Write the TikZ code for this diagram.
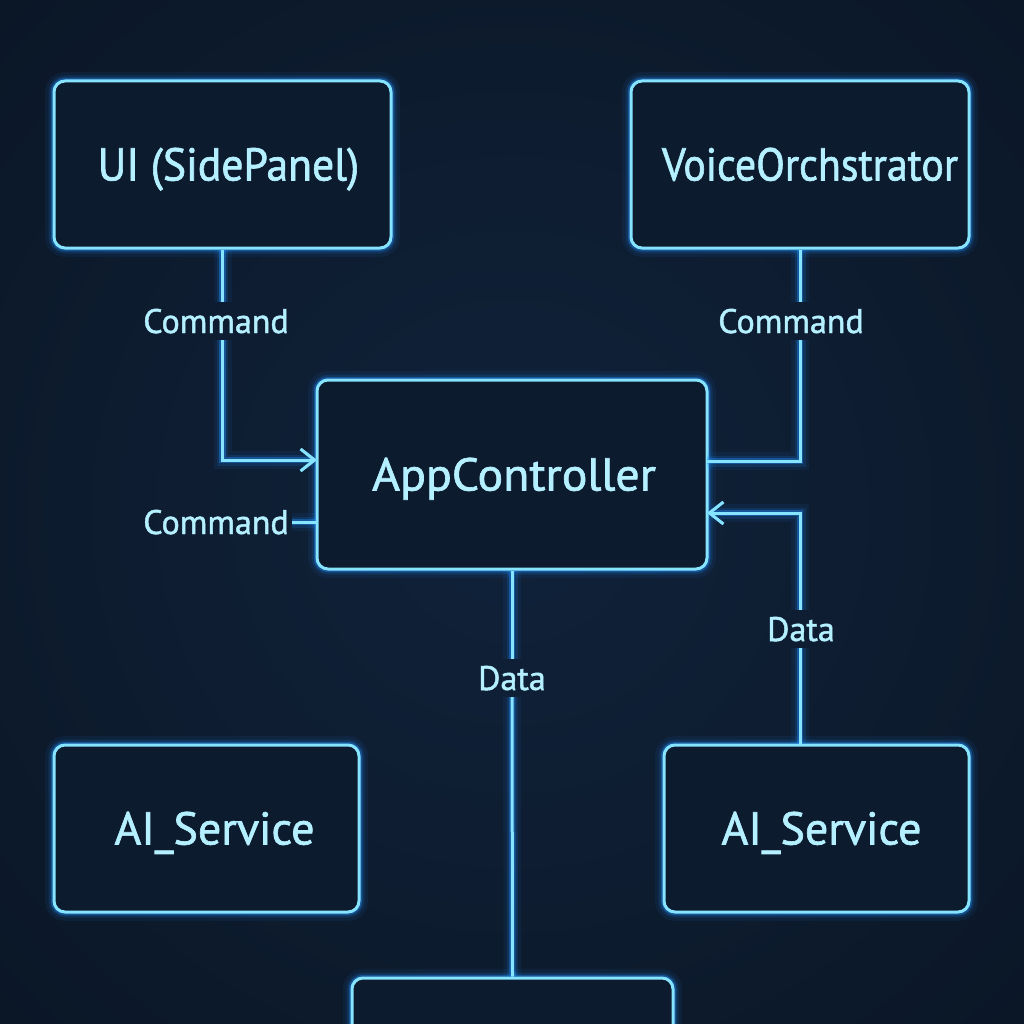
\documentclass[tikz,border=0pt]{standalone}
\usepackage{fontspec}
\setmainfont{PT Sans}[FakeBold=1.4]
\usetikzlibrary{arrows.meta}
\definecolor{bg}{HTML}{10223A}
\definecolor{bgdark}{HTML}{0B1727}
\definecolor{boxbg}{HTML}{0D1B2E}
\definecolor{core}{HTML}{86E4FF}
\definecolor{glow}{HTML}{1E8FFF}
\definecolor{txt}{HTML}{B4F0FF}
\begin{document}
\begin{tikzpicture}[x=1pt,y=-1pt,
  glowline/.style={draw=core, line width=3pt,
    preaction={draw=glow, line width=18pt, opacity=0.07},
    preaction={draw=glow, line width=11pt, opacity=0.14},
    preaction={draw=glow, line width=6.5pt, opacity=0.38}},
  box/.style={glowline, rounded corners=11pt, preaction={fill=boxbg},
    text=txt, font=\fontsize{46}{50}\selectfont, inner sep=0pt,
    text height=32pt, text depth=0pt},
  lbl/.style={text=txt, font=\fontsize{34}{38}\selectfont, inner xsep=3pt,
    inner ysep=7pt, text height=24pt, text depth=0pt},
  tip/.style={-{Straight Barb[length=14pt,width=22pt,line width=3pt]}}]
\useasboundingbox (0,0) rectangle (1024,1024);
\clip (0,0) rectangle (1024,1024);
\fill[bg] (0,0) rectangle (1024,1024);
\shade[inner color=bg, outer color=bgdark] (-200,-200) rectangle (1224,1224);
% boxes
\node[box, minimum width=337pt, minimum height=167pt] (ui) at (222.5,164.5) {\hspace*{12pt}\scalebox{0.95}[1]{UI (SidePanel)}};
\node[box, minimum width=338pt, minimum height=167pt] (vo) at (800,164.5) {\hspace*{20pt}\scalebox{0.91}[1]{VoiceOrchstrator}};
\node[box, minimum width=390pt, minimum height=189pt] (app) at (512,474.5) {\hspace*{4pt}\scalebox{1.04}[1]{AppController}};
\node[box, minimum width=305pt, minimum height=167pt] (ail) at (206.5,828.5) {\hspace*{16pt}AI\_Service};
\node[box, minimum width=305pt, minimum height=167pt] (air) at (816.5,828.5) {\hspace*{10pt}AI\_Service};
\node[box, minimum width=321pt, minimum height=120pt] (bot) at (512.5,1038) {};
% anchor points on AppController
\coordinate (appinL) at (317,460);
\coordinate (appoutR) at (707,461);
\coordinate (appinR) at (707,513);
% labels
\node[lbl] (c1) at (216,321) {Command};
\node[lbl] (c2) at (791,321) {Command};
\node[lbl] (c3) at (216,522) {Command};
\node[lbl] (d1) at (512,678) {Data};
\node[lbl] (d2) at (801,629) {Data};
% connectors
\draw[glowline] (ui.south) -- (ui.south |- c1.north);
\draw[glowline, tip] (ui.south |- c1.south) |- (appinL);
\draw[glowline] (vo.south) -- (vo.south |- c2.north);
\draw[glowline] (vo.south |- c2.south) |- (appoutR);
\draw[glowline] (c3.east) -- (c3.east -| app.west);
\draw[glowline] (app.south) -- (d1.north);
\draw[glowline] (d1.south) -- (bot.north);
\draw[glowline] (air.north -| vo.south) -- (vo.south |- d2.south);
\draw[glowline, tip] (vo.south |- d2.north) |- (appinR);
\end{tikzpicture}
\end{document}
